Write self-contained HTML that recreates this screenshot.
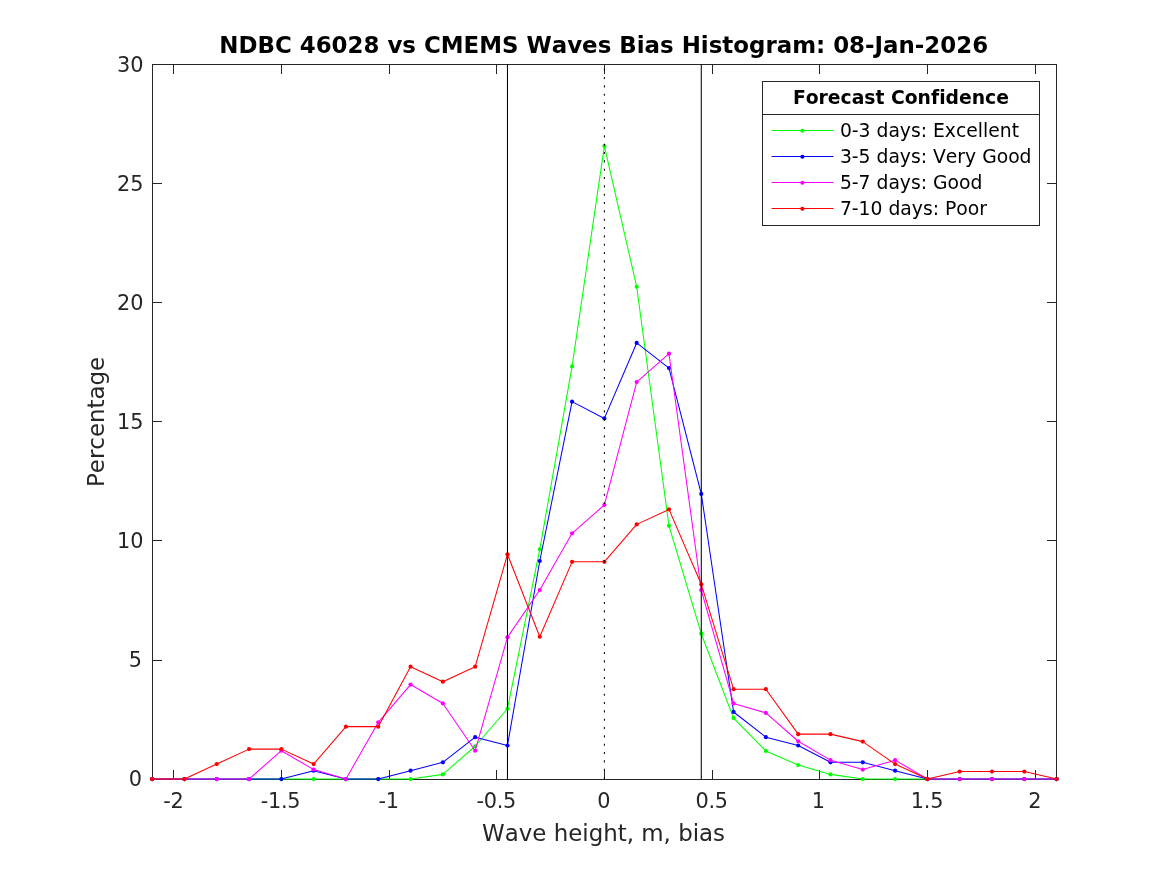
<!DOCTYPE html>
<html><head><meta charset="utf-8"><title>NDBC 46028 vs CMEMS Waves Bias Histogram</title>
<style>
html,body{margin:0;padding:0;background:#fff;}
body{width:1167px;height:875px;overflow:hidden;font-family:"DejaVu Sans","Liberation Sans",sans-serif;}
svg{display:block;}
text{font-family:"DejaVu Sans","Liberation Sans",sans-serif;font-kerning:none;font-variant-ligatures:none;}
.tk{font-size:20.83px;fill:#262626;}
.tkx{letter-spacing:-0.25px;}
.lb{font-size:22.92px;fill:#262626;}
.tt{font-size:22.92px;font-weight:bold;fill:#000;}
.lg{font-size:18.75px;fill:#000;}
.lt{font-size:18.75px;font-weight:bold;fill:#000;}
</style></head><body>
<svg width="1167" height="875" viewBox="0 0 1167 875">
<rect x="0" y="0" width="1167" height="875" fill="#ffffff"/>
<g fill="#262626" shape-rendering="crispEdges">
<rect x="152" y="64" width="905" height="1"/><rect x="152" y="779" width="905" height="1"/><rect x="152" y="64" width="1" height="716"/><rect x="1056" y="64" width="1" height="716"/>
<rect x="173" y="770" width="1" height="9"/><rect x="173" y="65" width="1" height="9"/>
<rect x="281" y="770" width="1" height="9"/><rect x="281" y="65" width="1" height="9"/>
<rect x="389" y="770" width="1" height="9"/><rect x="389" y="65" width="1" height="9"/>
<rect x="496" y="770" width="1" height="9"/><rect x="496" y="65" width="1" height="9"/>
<rect x="604" y="770" width="1" height="9"/><rect x="604" y="65" width="1" height="9"/>
<rect x="712" y="770" width="1" height="9"/><rect x="712" y="65" width="1" height="9"/>
<rect x="819" y="770" width="1" height="9"/><rect x="819" y="65" width="1" height="9"/>
<rect x="927" y="770" width="1" height="9"/><rect x="927" y="65" width="1" height="9"/>
<rect x="1035" y="770" width="1" height="9"/><rect x="1035" y="65" width="1" height="9"/>
<rect x="153" y="779" width="9" height="1"/><rect x="1047" y="779" width="9" height="1"/>
<rect x="153" y="660" width="9" height="1"/><rect x="1047" y="660" width="9" height="1"/>
<rect x="153" y="540" width="9" height="1"/><rect x="1047" y="540" width="9" height="1"/>
<rect x="153" y="421" width="9" height="1"/><rect x="1047" y="421" width="9" height="1"/>
<rect x="153" y="302" width="9" height="1"/><rect x="1047" y="302" width="9" height="1"/>
<rect x="153" y="183" width="9" height="1"/><rect x="1047" y="183" width="9" height="1"/>
<rect x="153" y="64" width="9" height="1"/><rect x="1047" y="64" width="9" height="1"/>
</g>
<polyline points="152.15,779.07 184.45,779.07 216.75,779.07 249.06,779.07 281.36,779.07 313.66,779.07 345.96,779.07 378.26,779.07 410.56,779.07 442.87,774.38 475.17,746.25 507.47,708.74 539.77,549.31 572.07,366.44 604.38,146.06 636.68,286.73 668.98,525.87 701.28,633.71 733.58,718.11 765.88,750.94 798.19,765.00 830.49,774.38 862.79,779.07 895.09,779.07 927.39,779.07 959.69,779.07 992.00,779.07 1024.30,779.07 1056.60,779.07" fill="none" stroke="#00ff00" stroke-width="1.04" stroke-linejoin="round"/>
<g fill="#00ff00"><circle cx="152.15" cy="779.07" r="2.10"/><circle cx="184.45" cy="779.07" r="2.10"/><circle cx="216.75" cy="779.07" r="2.10"/><circle cx="249.06" cy="779.07" r="2.10"/><circle cx="281.36" cy="779.07" r="2.10"/><circle cx="313.66" cy="779.07" r="2.10"/><circle cx="345.96" cy="779.07" r="2.10"/><circle cx="378.26" cy="779.07" r="2.10"/><circle cx="410.56" cy="779.07" r="2.10"/><circle cx="442.87" cy="774.38" r="2.10"/><circle cx="475.17" cy="746.25" r="2.10"/><circle cx="507.47" cy="708.74" r="2.10"/><circle cx="539.77" cy="549.31" r="2.10"/><circle cx="572.07" cy="366.44" r="2.10"/><circle cx="604.38" cy="146.06" r="2.10"/><circle cx="636.68" cy="286.73" r="2.10"/><circle cx="668.98" cy="525.87" r="2.10"/><circle cx="701.28" cy="633.71" r="2.10"/><circle cx="733.58" cy="718.11" r="2.10"/><circle cx="765.88" cy="750.94" r="2.10"/><circle cx="798.19" cy="765.00" r="2.10"/><circle cx="830.49" cy="774.38" r="2.10"/><circle cx="862.79" cy="779.07" r="2.10"/><circle cx="895.09" cy="779.07" r="2.10"/><circle cx="927.39" cy="779.07" r="2.10"/><circle cx="959.69" cy="779.07" r="2.10"/><circle cx="992.00" cy="779.07" r="2.10"/><circle cx="1024.30" cy="779.07" r="2.10"/><circle cx="1056.60" cy="779.07" r="2.10"/></g>
<polyline points="152.15,779.07 184.45,779.07 216.75,779.07 249.06,779.07 281.36,779.07 313.66,770.68 345.96,779.07 378.26,779.07 410.56,770.68 442.87,762.30 475.17,737.13 507.47,745.52 539.77,561.00 572.07,401.64 604.38,418.42 636.68,342.93 668.98,368.09 701.28,493.90 733.58,711.97 765.88,737.13 798.19,745.52 830.49,762.30 862.79,762.30 895.09,770.68 927.39,779.07 959.69,779.07 992.00,779.07 1024.30,779.07 1056.60,779.07" fill="none" stroke="#0000ff" stroke-width="1.04" stroke-linejoin="round"/>
<g fill="#0000ff"><circle cx="152.15" cy="779.07" r="2.10"/><circle cx="184.45" cy="779.07" r="2.10"/><circle cx="216.75" cy="779.07" r="2.10"/><circle cx="249.06" cy="779.07" r="2.10"/><circle cx="281.36" cy="779.07" r="2.10"/><circle cx="313.66" cy="770.68" r="2.10"/><circle cx="345.96" cy="779.07" r="2.10"/><circle cx="378.26" cy="779.07" r="2.10"/><circle cx="410.56" cy="770.68" r="2.10"/><circle cx="442.87" cy="762.30" r="2.10"/><circle cx="475.17" cy="737.13" r="2.10"/><circle cx="507.47" cy="745.52" r="2.10"/><circle cx="539.77" cy="561.00" r="2.10"/><circle cx="572.07" cy="401.64" r="2.10"/><circle cx="604.38" cy="418.42" r="2.10"/><circle cx="636.68" cy="342.93" r="2.10"/><circle cx="668.98" cy="368.09" r="2.10"/><circle cx="701.28" cy="493.90" r="2.10"/><circle cx="733.58" cy="711.97" r="2.10"/><circle cx="765.88" cy="737.13" r="2.10"/><circle cx="798.19" cy="745.52" r="2.10"/><circle cx="830.49" cy="762.30" r="2.10"/><circle cx="862.79" cy="762.30" r="2.10"/><circle cx="895.09" cy="770.68" r="2.10"/><circle cx="927.39" cy="779.07" r="2.10"/><circle cx="959.69" cy="779.07" r="2.10"/><circle cx="992.00" cy="779.07" r="2.10"/><circle cx="1024.30" cy="779.07" r="2.10"/><circle cx="1056.60" cy="779.07" r="2.10"/></g>
<polyline points="152.15,779.07 184.45,779.07 216.75,779.07 249.06,779.07 281.36,750.71 313.66,769.62 345.96,779.07 378.26,722.36 410.56,684.55 442.87,703.45 475.17,750.71 507.47,637.28 539.77,590.02 572.07,533.31 604.38,504.95 636.68,382.07 668.98,353.71 701.28,590.02 733.58,703.45 765.88,712.90 798.19,741.26 830.49,760.17 862.79,769.62 895.09,760.17 927.39,779.07 959.69,779.07 992.00,779.07 1024.30,779.07 1056.60,779.07" fill="none" stroke="#ff00ff" stroke-width="1.04" stroke-linejoin="round"/>
<g fill="#ff00ff"><circle cx="152.15" cy="779.07" r="2.10"/><circle cx="184.45" cy="779.07" r="2.10"/><circle cx="216.75" cy="779.07" r="2.10"/><circle cx="249.06" cy="779.07" r="2.10"/><circle cx="281.36" cy="750.71" r="2.10"/><circle cx="313.66" cy="769.62" r="2.10"/><circle cx="345.96" cy="779.07" r="2.10"/><circle cx="378.26" cy="722.36" r="2.10"/><circle cx="410.56" cy="684.55" r="2.10"/><circle cx="442.87" cy="703.45" r="2.10"/><circle cx="475.17" cy="750.71" r="2.10"/><circle cx="507.47" cy="637.28" r="2.10"/><circle cx="539.77" cy="590.02" r="2.10"/><circle cx="572.07" cy="533.31" r="2.10"/><circle cx="604.38" cy="504.95" r="2.10"/><circle cx="636.68" cy="382.07" r="2.10"/><circle cx="668.98" cy="353.71" r="2.10"/><circle cx="701.28" cy="590.02" r="2.10"/><circle cx="733.58" cy="703.45" r="2.10"/><circle cx="765.88" cy="712.90" r="2.10"/><circle cx="798.19" cy="741.26" r="2.10"/><circle cx="830.49" cy="760.17" r="2.10"/><circle cx="862.79" cy="769.62" r="2.10"/><circle cx="895.09" cy="760.17" r="2.10"/><circle cx="927.39" cy="779.07" r="2.10"/><circle cx="959.69" cy="779.07" r="2.10"/><circle cx="992.00" cy="779.07" r="2.10"/><circle cx="1024.30" cy="779.07" r="2.10"/><circle cx="1056.60" cy="779.07" r="2.10"/></g>
<polyline points="152.15,779.07 184.45,779.07 216.75,764.09 249.06,749.11 281.36,749.11 313.66,764.09 345.96,726.64 378.26,726.64 410.56,666.71 442.87,681.69 475.17,666.71 507.47,554.35 539.77,636.75 572.07,561.84 604.38,561.84 636.68,524.39 668.98,509.41 701.28,584.32 733.58,689.18 765.88,689.18 798.19,734.13 830.49,734.13 862.79,741.62 895.09,764.09 927.39,779.07 959.69,771.58 992.00,771.58 1024.30,771.58 1056.60,779.07" fill="none" stroke="#ff0000" stroke-width="1.04" stroke-linejoin="round"/>
<g fill="#ff0000"><circle cx="152.15" cy="779.07" r="2.10"/><circle cx="184.45" cy="779.07" r="2.10"/><circle cx="216.75" cy="764.09" r="2.10"/><circle cx="249.06" cy="749.11" r="2.10"/><circle cx="281.36" cy="749.11" r="2.10"/><circle cx="313.66" cy="764.09" r="2.10"/><circle cx="345.96" cy="726.64" r="2.10"/><circle cx="378.26" cy="726.64" r="2.10"/><circle cx="410.56" cy="666.71" r="2.10"/><circle cx="442.87" cy="681.69" r="2.10"/><circle cx="475.17" cy="666.71" r="2.10"/><circle cx="507.47" cy="554.35" r="2.10"/><circle cx="539.77" cy="636.75" r="2.10"/><circle cx="572.07" cy="561.84" r="2.10"/><circle cx="604.38" cy="561.84" r="2.10"/><circle cx="636.68" cy="524.39" r="2.10"/><circle cx="668.98" cy="509.41" r="2.10"/><circle cx="701.28" cy="584.32" r="2.10"/><circle cx="733.58" cy="689.18" r="2.10"/><circle cx="765.88" cy="689.18" r="2.10"/><circle cx="798.19" cy="734.13" r="2.10"/><circle cx="830.49" cy="734.13" r="2.10"/><circle cx="862.79" cy="741.62" r="2.10"/><circle cx="895.09" cy="764.09" r="2.10"/><circle cx="927.39" cy="779.07" r="2.10"/><circle cx="959.69" cy="771.58" r="2.10"/><circle cx="992.00" cy="771.58" r="2.10"/><circle cx="1024.30" cy="771.58" r="2.10"/><circle cx="1056.60" cy="779.07" r="2.10"/></g>
<line x1="507.47" y1="779.07" x2="507.47" y2="64.47" stroke="#000" stroke-width="1.04"/>
<line x1="701.28" y1="779.07" x2="701.28" y2="64.47" stroke="#000" stroke-width="1.04"/>
<line x1="604.38" y1="779.07" x2="604.38" y2="64.47" stroke="#000" stroke-width="1.04" stroke-dasharray="2.08 6.253"/>
<text class="tk tkx" x="173.28" y="808" text-anchor="middle">-2</text><text class="tk tkx" x="280.46" y="808" text-anchor="middle">-1.5</text><text class="tk tkx" x="388.63" y="808" text-anchor="middle">-1</text><text class="tk tkx" x="496.30" y="808" text-anchor="middle">-0.5</text><text class="tk tkx" x="603.68" y="808" text-anchor="middle">0</text><text class="tk tkx" x="711.65" y="808" text-anchor="middle">0.5</text><text class="tk tkx" x="818.32" y="808" text-anchor="middle">1</text><text class="tk tkx" x="926.99" y="808" text-anchor="middle">1.5</text><text class="tk tkx" x="1034.67" y="808" text-anchor="middle">2</text>
<text class="tk" x="142.10" y="786.4" text-anchor="end">0</text><text class="tk" x="142.10" y="667.2" text-anchor="end">5</text><text class="tk" x="143.40" y="548.0" text-anchor="end">10</text><text class="tk" x="143.40" y="429.0" text-anchor="end">15</text><text class="tk" x="143.40" y="310.0" text-anchor="end">20</text><text class="tk" x="143.40" y="191.0" text-anchor="end">25</text><text class="tk" x="143.40" y="72.0" text-anchor="end">30</text>
<text class="lb" x="603.6" y="840.6" text-anchor="middle">Wave height, m, bias</text>
<text class="lb" transform="translate(104.2,421.9) rotate(-90)" text-anchor="middle">Percentage</text>
<text class="tt" x="603.7" y="53.4" text-anchor="middle">NDBC 46028 vs CMEMS Waves Bias Histogram: 08-Jan-2026</text>
<g shape-rendering="crispEdges"><rect x="762.5" y="81.5" width="277" height="144" fill="#fff" stroke="#262626" stroke-width="1"/><line x1="762.5" y1="114.5" x2="1039.5" y2="114.5" stroke="#262626" stroke-width="1"/></g>
<text class="lt" x="900.9" y="104.3" text-anchor="middle">Forecast Confidence</text>
<line x1="771.6" y1="130.50" x2="833.5" y2="130.50" stroke="#00ff00" stroke-width="1.04"/><circle cx="802.4" cy="130.75" r="2.10" fill="#00ff00"/><text class="lg" x="839.9" y="137.25">0-3 days: Excellent</text>
<line x1="771.6" y1="156.50" x2="833.5" y2="156.50" stroke="#0000ff" stroke-width="1.04"/><circle cx="802.4" cy="156.75" r="2.10" fill="#0000ff"/><text class="lg" x="839.9" y="163.25">3-5 days: Very Good</text>
<line x1="771.6" y1="182.50" x2="833.5" y2="182.50" stroke="#ff00ff" stroke-width="1.04"/><circle cx="802.4" cy="182.75" r="2.10" fill="#ff00ff"/><text class="lg" x="839.9" y="189.25">5-7 days: Good</text>
<line x1="771.6" y1="208.50" x2="833.5" y2="208.50" stroke="#ff0000" stroke-width="1.04"/><circle cx="802.4" cy="208.75" r="2.10" fill="#ff0000"/><text class="lg" x="839.9" y="215.25">7-10 days: Poor</text>
</svg>
</body></html>
